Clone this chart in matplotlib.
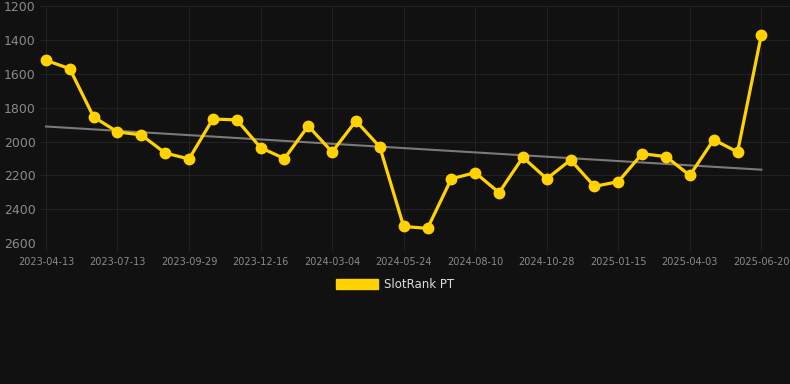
import matplotlib.pyplot as plt
import numpy as np
from matplotlib.patches import Patch

# slotrank values, one per period (category axis)
ranks = [1520, 1570, 1855, 1943, 1961, 2068, 2103, 1867, 1872, 2036, 2101,
         1908, 2062, 1878, 2032, 2502, 2513, 2220, 2184, 2302, 2093, 2220,
         2109, 2265, 2237, 2072, 2089, 2200, 1989, 2062, 1368]
tick_labels = ['2023-04-13', '2023-07-13', '2023-09-29', '2023-12-16',
               '2024-03-04', '2024-05-24', '2024-08-10', '2024-10-28',
               '2025-01-15', '2025-04-03', '2025-06-20']
y_ticks = [1200, 1400, 1600, 1800, 2000, 2200, 2400, 2600]

bg = '#111111'
yellow = '#FFD200'

fig = plt.figure(figsize=(7.9, 3.84), dpi=100, facecolor=bg)
ax = fig.add_axes([0.0506, 0.367, 0.9494, 0.617], facecolor=bg)

x = np.arange(len(ranks))
k, b = np.polyfit(x, ranks, 1)
ax.plot(x, k * x + b, color='#7a7a7a', lw=1.5, zorder=2)
ax.plot(x, ranks, color=yellow, lw=2.3, marker='o', markersize=7.5, zorder=3)

ax.set_ylim(2600, 1200)
ax.set_xlim(-0.25, 31.2)
ax.set_yticks(y_ticks)
ax.set_xticks(x[::3])
ax.set_xticklabels(tick_labels)

ax.grid(True, color='#222222', lw=0.8)
ax.set_axisbelow(True)
for s in ax.spines.values():
    s.set_visible(False)
ax.tick_params(axis='y', colors='#8a8a8a', labelsize=9, length=0, pad=3)
ax.tick_params(axis='x', colors='#222222', labelcolor='#8a8a8a', labelsize=7,
               length=6, pad=4)

fig.legend(handles=[Patch(facecolor=yellow, edgecolor=yellow)], labels=['SlotRank PT'],
           loc='center', bbox_to_anchor=(0.5, 0.258), frameon=False,
           handlelength=3.5, handleheight=0.9, handletextpad=0.5,
           fontsize=8.5, labelcolor='#dddddd')

fig.savefig('out.png', dpi=100, facecolor=bg)
